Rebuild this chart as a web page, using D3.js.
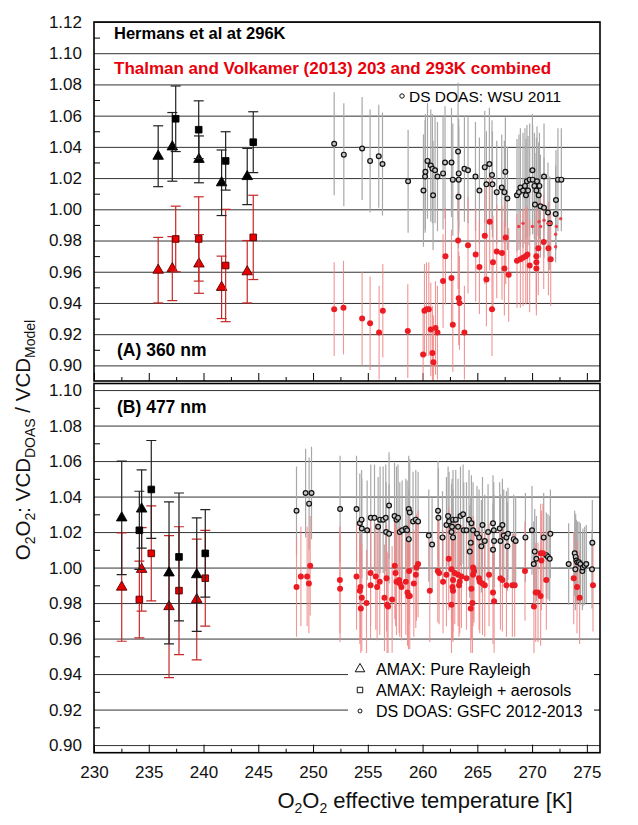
<!DOCTYPE html>
<html><head><meta charset="utf-8">
<script src="https://cdn.jsdelivr.net/npm/d3@7"></script>
<style>body{margin:0;background:#fff}svg{display:block}text{font-family:"Liberation Sans",Arial,sans-serif}</style>
</head><body><svg id="c" width="638" height="825"></svg>
<script>
// ---------- data ----------
const xTicks = [230,235,240,245,250,255,260,265,270,275];
const xMinorTicks = [232.5,237.5,242.5,247.5,252.5,257.5,262.5,267.5,272.5];
const yTicksTop = [0.90,0.92,0.94,0.96,0.98,1.00,1.02,1.04,1.06,1.08,1.10,1.12];
const yTicksBottom = [0.90,0.92,0.94,0.96,0.98,1.00,1.02,1.04,1.06,1.08,1.10];
const yMinorTop = [0.91,0.93,0.95,0.97,0.99,1.01,1.03,1.05,1.07,1.09,1.11];
const yMinorBottom = [0.91,0.93,0.95,0.97,0.99,1.01,1.03,1.05,1.07,1.09];

// Panel A (360 nm) AMAX: [T, ratio, error]
const topTriBlack = [[235.86,1.034,0.0195],[237.15,1.040,0.022],[239.58,1.032,0.015],[241.65,1.017,0.021],[243.99,1.021,0.018]];
const topSqBlack  = [[237.46,1.058,0.021],[239.56,1.051,0.0185],[242.02,1.031,0.0187],[244.54,1.043,0.0195]];
const topTriRed   = [[235.86,0.961,0.021],[237.15,0.962,0.0205],[239.58,0.965,0.0188],[241.65,0.950,0.020],[243.99,0.960,0.020]];
const topSqRed    = [[237.46,0.981,0.021],[239.56,0.981,0.027],[242.02,0.964,0.036],[244.54,0.982,0.027]];
// Panel A DS DOAS WSU 2011
const topDSBlack = [[251.93,1.042,0.033],[252.81,1.035,0.033],[254.48,1.039,0.033],[255.21,1.031,0.033],[256.00,1.034,0.033],[256.34,1.029,0.033],[258.68,1.018,0.033],[260.08,1.012,0.036],[260.23,1.021,0.036],[260.26,1.024,0.037],[260.45,1.031,0.037],[260.75,1.028,0.036],[260.96,1.009,0.035],[260.90,1.026,0.035],[261.14,1.025,0.034],[261.36,1.021,0.035],[261.87,1.023,0.036],[262.05,1.030,0.036],[262.64,1.030,0.035],[262.76,1.019,0.036],[263.24,1.037,0.044],[263.30,1.023,0.035],[263.30,1.019,0.034],[263.28,1.008,0.033],[263.82,1.026,0.034],[264.15,1.025,0.034],[264.83,1.021,0.035],[265.19,1.012,0.034],[265.68,1.027,0.036],[266.10,1.029,0.036],[266.34,1.022,0.035],[265.83,1.016,0.034],[266.38,1.016,0.034],[266.77,1.011,0.033],[267.23,1.014,0.034],[267.47,1.011,0.033],[267.56,1.024,0.035],[267.75,1.007,0.033],[268.62,1.009,0.036],[268.80,1.011,0.037],[268.93,1.014,0.038],[269.17,1.012,0.037],[269.35,1.015,0.037],[269.44,1.009,0.036],[269.53,1.018,0.036],[269.63,1.012,0.035],[269.78,1.019,0.036],[270.03,1.025,0.036],[270.05,1.019,0.035],[270.21,1.015,0.034],[270.39,1.012,0.034],[270.45,1.018,0.035],[270.60,1.009,0.034],[270.67,1.015,0.034],[270.26,1.003,0.033],[270.76,1.002,0.033],[271.09,1.021,0.034],[271.09,1.001,0.032],[271.45,0.998,0.032],[272.18,1.006,0.032],[272.15,0.997,0.031],[272.36,1.019,0.033],[272.67,1.019,0.033],[271.61,0.991,0.030]];
const topDSRed = [[251.93,0.936,0.030],[252.78,0.937,0.030],[254.48,0.930,0.030],[255.21,0.927,0.030],[256.03,0.921,0.030],[256.37,0.935,0.030],[258.65,0.922,0.030],[260.05,0.907,0.030],[260.17,0.935,0.030],[260.36,0.936,0.030],[260.57,0.936,0.030],[260.75,0.923,0.030],[260.90,0.908,0.030],[260.99,0.902,0.030],[261.18,0.924,0.030],[261.36,0.921,0.030],[261.87,0.954,0.030],[262.09,0.970,0.031],[262.64,0.956,0.031],[262.76,0.926,0.030],[263.24,0.980,0.031],[263.30,0.943,0.030],[263.37,0.940,0.030],[263.82,0.921,0.030],[264.15,0.977,0.031],[264.85,0.971,0.030],[265.19,0.963,0.030],[265.68,0.983,0.031],[265.83,0.955,0.030],[266.13,0.992,0.031],[266.34,0.936,0.030],[266.43,0.966,0.030],[266.77,0.973,0.030],[267.25,0.972,0.030],[267.47,0.962,0.030],[267.59,0.982,0.030],[267.86,0.958,0.030],[268.62,0.967,0.030],[268.93,0.968,0.031],[269.17,0.969,0.031],[269.42,0.970,0.031],[269.57,0.971,0.031],[269.78,0.964,0.030],[270.39,0.966,0.030],[270.39,0.962,0.030],[270.39,0.970,0.030],[270.57,0.975,0.030],[271.06,0.979,0.030],[271.49,0.975,0.030],[271.70,0.968,0.030]];
const topDSRedSmall = [[268.78,0.989],[269.17,0.991],[270.03,0.989],[270.63,0.992],[270.78,0.989],[271.09,0.993],[271.45,0.991],[272.22,0.989],[272.15,0.984],[272.15,0.976],[272.61,0.994],[271.70,0.991]];

// Panel B (477 nm) AMAX
const botTriBlack = [[232.53,1.028,0.032],[234.35,1.033,0.022],[236.85,0.997,0.040],[239.38,0.996,0.032]];
const botSqBlack  = [[234.14,1.021,0.022],[235.23,1.044,0.0276],[237.76,1.006,0.036],[240.16,1.008,0.0247]];
const botTriRed   = [[232.53,0.989,0.0305],[234.35,0.999,0.0235],[236.85,0.978,0.040],[239.38,0.982,0.034]];
const botSqRed    = [[234.14,0.982,0.0216],[235.23,1.008,0.0268],[237.76,0.987,0.036],[240.16,0.994,0.027]];
// Panel B DS DOAS GSFC 2012-2013
const botDSBlack = [[248.49,1.032,0.025],[249.32,1.042,0.025],[249.64,1.036,0.026],[249.86,1.042,0.026],[252.47,1.033,0.030],[253.97,1.033,0.030],[254.27,1.025,0.028],[254.43,1.027,0.028],[254.45,1.022,0.028],[254.94,1.021,0.028],[255.27,1.028,0.030],[255.61,1.028,0.030],[255.94,1.023,0.028],[256.12,1.027,0.030],[256.40,1.027,0.030],[256.64,1.028,0.030],[256.67,1.020,0.028],[256.94,1.035,0.030],[256.94,1.019,0.028],[257.44,1.029,0.030],[257.62,1.027,0.030],[257.76,1.028,0.030],[257.92,1.020,0.028],[258.13,1.021,0.028],[258.47,1.022,0.028],[258.59,1.021,0.028],[258.74,1.033,0.030],[258.83,1.031,0.030],[258.74,1.016,0.028],[259.13,1.026,0.028],[259.38,1.027,0.028],[259.59,1.026,0.028],[260.57,1.018,0.026],[260.87,1.013,0.026],[261.41,1.032,0.028],[261.45,1.028,0.028],[261.82,1.017,0.026],[262.18,1.024,0.027],[262.33,1.029,0.028],[262.42,1.026,0.028],[262.78,1.027,0.028],[262.69,1.023,0.027],[262.64,1.020,0.027],[262.78,1.017,0.027],[263.03,1.027,0.028],[263.24,1.023,0.027],[263.46,1.029,0.028],[263.70,1.030,0.028],[263.76,1.021,0.027],[264.01,1.021,0.027],[264.24,1.027,0.028],[264.46,1.025,0.027],[264.61,1.021,0.027],[264.40,1.014,0.026],[264.31,1.009,0.026],[264.97,1.019,0.027],[265.16,1.017,0.027],[265.37,1.012,0.026],[265.47,1.024,0.027],[265.68,1.015,0.026],[265.98,1.020,0.027],[266.43,1.025,0.027],[266.43,1.010,0.026],[266.50,1.021,0.027],[266.53,1.015,0.026],[267.04,1.022,0.026],[267.11,1.015,0.026],[267.29,1.024,0.026],[267.41,1.018,0.026],[267.66,1.017,0.026],[267.75,1.012,0.025],[267.80,1.019,0.026],[268.32,1.016,0.025],[268.50,1.015,0.025],[269.39,1.017,0.025],[269.99,1.021,0.025],[270.24,1.009,0.024],[270.39,1.005,0.024],[270.15,1.002,0.024],[271.06,1.017,0.025],[271.30,1.007,0.024],[271.45,1.006,0.024],[271.61,1.005,0.024],[271.67,1.019,0.025],[273.34,1.002,0.023],[273.89,1.008,0.024],[273.98,1.006,0.024],[274.04,1.004,0.023],[273.95,0.999,0.023],[274.13,1.003,0.023],[274.28,1.003,0.023],[274.41,1.002,0.023],[274.59,0.998,0.022],[274.64,1.000,0.022],[274.80,1.001,0.022],[274.95,1.002,0.022],[275.47,0.999,0.022],[275.50,1.014,0.024]];
const botDSRed = [[248.49,0.989,0.028],[248.89,0.995,0.028],[249.46,0.995,0.028],[249.62,0.991,0.028],[249.74,1.001,0.028],[252.45,0.993,0.030],[252.47,0.988,0.030],[253.97,0.995,0.030],[254.33,0.989,0.030],[254.27,0.987,0.030],[254.45,0.983,0.030],[254.36,0.977,0.030],[254.88,0.980,0.030],[255.25,0.997,0.030],[255.25,0.990,0.030],[255.73,0.995,0.030],[255.85,0.989,0.030],[256.09,0.992,0.030],[256.52,0.983,0.030],[256.71,0.994,0.030],[256.76,0.979,0.030],[256.85,0.978,0.030],[257.22,0.982,0.030],[257.46,1.001,0.030],[257.53,0.997,0.030],[257.62,0.992,0.030],[257.86,0.993,0.030],[257.92,0.991,0.030],[258.08,0.989,0.030],[258.47,0.992,0.030],[258.62,0.986,0.030],[258.71,0.984,0.030],[258.83,0.984,0.030],[258.77,0.998,0.030],[259.20,0.991,0.030],[259.38,0.996,0.030],[259.44,1.000,0.030],[259.59,1.002,0.030],[260.66,0.987,0.029],[261.39,0.998,0.029],[261.51,0.997,0.029],[261.87,0.992,0.029],[262.18,0.996,0.029],[262.39,1.005,0.029],[262.64,0.999,0.029],[262.78,0.993,0.029],[262.94,0.997,0.029],[262.73,0.989,0.029],[262.78,0.987,0.029],[262.64,0.979,0.029],[263.24,0.996,0.029],[263.39,0.992,0.029],[263.55,0.995,0.029],[263.33,0.990,0.029],[264.01,0.994,0.029],[264.46,0.988,0.029],[264.55,0.980,0.029],[264.40,0.977,0.029],[264.61,1.000,0.029],[264.70,0.998,0.029],[264.61,0.996,0.029],[265.16,0.994,0.029],[265.22,0.992,0.029],[265.47,0.991,0.029],[265.68,0.990,0.029],[266.07,0.996,0.029],[266.43,0.986,0.029],[266.53,0.981,0.029],[267.11,0.994,0.029],[267.29,0.993,0.029],[267.66,0.990,0.029],[268.20,0.990,0.029],[268.41,0.990,0.029],[269.35,0.998,0.028],[270.17,0.978,0.028],[270.33,0.986,0.028],[270.54,0.986,0.028],[270.78,0.984,0.028],[270.78,1.008,0.028],[270.99,1.008,0.028],[270.85,1.004,0.028],[271.30,0.993,0.028],[273.80,0.994,0.026],[274.10,0.989,0.026],[274.34,0.983,0.026],[275.56,0.990,0.026]];

const legendItems = ["AMAX: Pure Rayleigh","AMAX: Rayleigh + aerosols","DS DOAS: GSFC 2012-2013"];

// ---------- drawing ----------
const svg = d3.select("#c");
const x = d3.scaleLinear().domain([230,276.2]).range([94,600]);
const yTop = d3.scaleLinear().domain([0.89,1.12]).range([381,22]);
const yBot = d3.scaleLinear().domain([0.8957,1.1037]).range([752.7,383.5]);
const L = x.range()[0], R = x.range()[1], W = R - L;
const defs = svg.append("defs");
let clipN = 0;

function panel(y, yt, ym, tri, sq, triR, sqR, dsB, dsR, dsRs) {
  const g = svg.append("g");
  const [yb, ytp] = y.range();
  const cid = "clip" + (clipN++);
  defs.append("clipPath").attr("id",cid).append("rect").attr("x",L).attr("y",ytp).attr("width",W).attr("height",yb-ytp);
  g.append("g").attr("transform",`translate(${L},0)`)
    .call(d3.axisLeft(y).tickValues(yt).tickSize(-W).tickFormat(""))
    .call(a=>{a.select(".domain").remove();a.selectAll("line").attr("stroke","#333").attr("stroke-width",1);});
  g.append("g").attr("transform",`translate(${L},0)`)
    .call(d3.axisLeft(y).tickValues(ym).tickSize(-6).tickFormat(""))
    .call(a=>{a.select(".domain").remove();a.selectAll("line").attr("stroke","#000");});
  g.append("g").attr("transform",`translate(${L},0)`)
    .call(d3.axisLeft(y).tickValues(yt).tickSize(0).tickPadding(12).tickFormat(d3.format(".2f")))
    .call(a=>{a.select(".domain").remove();a.selectAll("text").attr("font-size",17).attr("fill","#111").attr("font-family","Liberation Sans, Arial");});
  g.append("g").attr("transform",`translate(0,${yb})`)
    .call(d3.axisBottom(x).tickValues(xTicks).tickSize(-8).tickFormat(""))
    .call(a=>{a.select(".domain").remove();a.selectAll("line").attr("stroke","#000");});
  g.append("g").attr("transform",`translate(0,${yb})`)
    .call(d3.axisBottom(x).tickValues(xMinorTicks).tickSize(-4).tickFormat(""))
    .call(a=>{a.select(".domain").remove();a.selectAll("line").attr("stroke","#000");});

  const pts = g.append("g").attr("clip-path",`url(#${cid})`);
  pts.selectAll(".eb").data(dsB).join("line")
    .attr("x1",d=>x(d[0])).attr("x2",d=>x(d[0])).attr("y1",d=>y(d[1]-d[2])).attr("y2",d=>y(d[1]+d[2]))
    .attr("stroke","#a8a8a8").attr("stroke-width",1.2);
  pts.selectAll(".er").data(dsR).join("line")
    .attr("x1",d=>x(d[0])).attr("x2",d=>x(d[0])).attr("y1",d=>y(d[1]-d[2])).attr("y2",d=>y(d[1]+d[2]))
    .attr("stroke","#f08a8a").attr("stroke-width",1.1).attr("opacity",0.9);
  pts.selectAll(".pb").data(dsB).join("circle")
    .attr("cx",d=>x(d[0])).attr("cy",d=>y(d[1])).attr("r",2.4)
    .attr("fill","#c4c4c4").attr("stroke","#111").attr("stroke-width",1.2);
  pts.selectAll(".pr").data(dsR).join("circle")
    .attr("cx",d=>x(d[0])).attr("cy",d=>y(d[1])).attr("r",3)
    .attr("fill","#ec1c24");
  pts.selectAll(".prs").data(dsRs).join("circle")
    .attr("cx",d=>x(d[0])).attr("cy",d=>y(d[1])).attr("r",1.7)
    .attr("fill","#e8414a");

  function amax(data, shape, size, fill, stroke, ebColor) {
    const gg = pts.append("g");
    data.forEach(d=>{
      const cx = x(d[0]);
      gg.append("line").attr("x1",cx).attr("x2",cx).attr("y1",y(d[1]-d[2])).attr("y2",y(d[1]+d[2])).attr("stroke",ebColor).attr("stroke-width",1.2);
      [d[1]-d[2], d[1]+d[2]].forEach(v=>gg.append("line").attr("x1",cx-5).attr("x2",cx+5).attr("y1",y(v)).attr("y2",y(v)).attr("stroke",ebColor).attr("stroke-width",1.2));
    });
    gg.selectAll("path").data(data).join("path")
      .attr("d",d3.symbol().type(shape).size(size))
      .attr("transform",d=>`translate(${x(d[0])},${y(d[1])})`)
      .attr("fill",fill).attr("stroke",stroke).attr("stroke-width",0.9);
  }
  amax(triR, d3.symbolTriangle, 48, "#e60000", "#5a0000", "#c62828");
  amax(sqR, d3.symbolSquare, 44, "#e60000", "#5a0000", "#c62828");
  amax(tri, d3.symbolTriangle, 48, "#000", "#000", "#222");
  amax(sq, d3.symbolSquare, 44, "#000", "#000", "#222");

  g.append("rect").attr("x",L).attr("y",ytp).attr("width",W).attr("height",yb-ytp)
    .attr("fill","none").attr("stroke","#000").attr("stroke-width",1.6);
  return g;
}

panel(yTop, yTicksTop, yMinorTop, topTriBlack, topSqBlack, topTriRed, topSqRed, topDSBlack, topDSRed, topDSRedSmall);
panel(yBot, yTicksBottom, yMinorBottom, botTriBlack, botSqBlack, botTriRed, botSqRed, botDSBlack, botDSRed, []);

// x axis labels
svg.append("g").attr("transform",`translate(0,${yBot.range()[0]})`)
  .call(d3.axisBottom(x).tickValues(xTicks).tickSize(0).tickPadding(13).tickFormat(d3.format("d")))
  .call(a=>{a.select(".domain").remove();a.selectAll("text").attr("font-size",17).attr("fill","#111").attr("font-family","Liberation Sans, Arial");});

// panel A texts
svg.append("text").attr("x",114).attr("y",39).attr("font-size",16.5).attr("font-weight","bold").attr("fill","#000").text("Hermans et al at 296K");
svg.append("text").attr("x",114).attr("y",74).attr("font-size",17).attr("font-weight","bold").attr("fill","#e8000b").text("Thalman and Volkamer (2013) 203 and 293K combined");
svg.append("circle").attr("cx",402).attr("cy",96).attr("r",2.2).attr("fill","#fff").attr("stroke","#111").attr("stroke-width",1);
svg.append("text").attr("x",409).attr("y",101.5).attr("font-size",15.5).attr("fill","#000").text("DS DOAS: WSU 2011");
svg.append("text").attr("x",117).attr("y",356).attr("font-size",17.5).attr("font-weight","bold").attr("fill","#000").text("(A) 360 nm");
svg.append("text").attr("x",117).attr("y",413).attr("font-size",17.5).attr("font-weight","bold").attr("fill","#000").text("(B) 477 nm");

// legend (panel B)
const lg = svg.append("g");
lg.append("rect").attr("x",348).attr("y",653).attr("width",R-348-1).attr("height",73).attr("fill","#fff");
const ly = [669,690,711];
lg.append("path").attr("d",d3.symbol().type(d3.symbolTriangle).size(40)).attr("transform",`translate(360,${ly[0]})`).attr("fill","none").attr("stroke","#111").attr("stroke-width",1);
lg.append("path").attr("d",d3.symbol().type(d3.symbolSquare).size(30)).attr("transform",`translate(360,${ly[1]})`).attr("fill","none").attr("stroke","#111").attr("stroke-width",1);
lg.append("circle").attr("cx",360).attr("cy",ly[2]).attr("r",2).attr("fill","none").attr("stroke","#111").attr("stroke-width",1);
lg.selectAll(".lt").data(legendItems).join("text").attr("x",376).attr("y",(d,i)=>ly[i]+6).attr("font-size",16).attr("fill","#000").text(d=>d);
lg.append("g").attr("transform",`translate(${R},0)`)
  .call(d3.axisRight(yBot).tickValues([0.92,0.94]).tickSize(-6).tickFormat(""))
  .call(a=>{a.select(".domain").remove();a.selectAll("line").attr("stroke","#000");});

// axis titles
const xt = svg.append("text").attr("x",425).attr("y",808).attr("text-anchor","middle").attr("font-size",22).attr("fill","#111");
xt.append("tspan").text("O");
xt.append("tspan").attr("font-size",14).attr("dy",5).text("2");
xt.append("tspan").attr("dy",-5).text("O");
xt.append("tspan").attr("font-size",14).attr("dy",5).text("2");
xt.append("tspan").attr("dy",-5).text(" effective temperature [K]");

const yt = svg.append("text").attr("transform","translate(30,440) rotate(-90)").attr("text-anchor","middle").attr("font-size",20.5).attr("fill","#111");
yt.append("tspan").text("O");
yt.append("tspan").attr("font-size",14).attr("dy",5).text("2");
yt.append("tspan").attr("dy",-5).text("O");
yt.append("tspan").attr("font-size",14).attr("dy",5).text("2");
yt.append("tspan").attr("dy",-5).text(": VCD");
yt.append("tspan").attr("font-size",14).attr("dy",5).text("DOAS");
yt.append("tspan").attr("dy",-5).text(" / VCD");
yt.append("tspan").attr("font-size",14).attr("dy",5).text("Model");
</script></body></html>
